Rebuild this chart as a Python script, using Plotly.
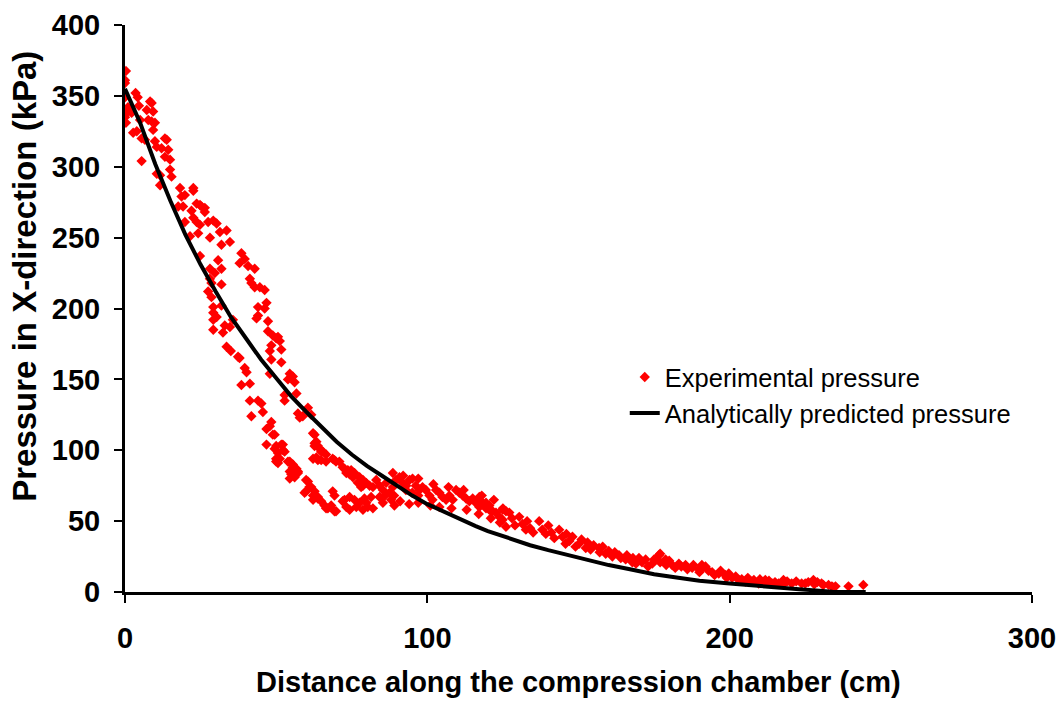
import plotly.graph_objects as go

# Analytically predicted pressure
curve_x = [0, 5, 10, 15, 20, 25, 30, 35, 40, 45, 50, 55, 60, 65, 70, 75, 80, 85, 90, 95,
           100, 105, 110, 116, 120, 127, 134, 140, 150, 160, 167, 175, 183, 190, 200, 211, 223, 234, 245]
curve_p = [355, 331, 302, 276, 252, 231, 212, 194, 179, 164, 151, 138, 127, 116, 106, 97, 89, 82, 75, 68,
           62, 57, 52, 46.5, 43, 38, 33, 29.5, 24, 19, 16, 12.5, 10, 8, 6, 3.8, 2, 0.2, 0]

# Experimental pressure
exp_x = [
    0.3, 0, 0, 3.5, 4.2, 4.6, 0, 1, 1.7, 8.3, 8.8, 7.2, 9.3, 0.5, 2.2, 0, 0.3, 5, 7.7, 8.8,
    9.9, 9.3, 2.7, 3.9, 5.5, 6.6, 13.2, 13.8, 9.9, 10.5, 12.1, 14.3, 13.2, 14.9, 5.5, 14.9, 15.4, 10.5, 11.6, 11.6,
    18.2, 22.6, 18.7, 19.8, 17.6, 19.2, 23.7, 25.3, 26.4,
    22.6, 24.8, 26.4, 22, 22.6, 23.7, 24.8, 19.8, 27.5, 29.2, 30.3, 31.4, 33.6, 21.5, 24.2, 28.1, 31.9, 34.7, 38.5, 39.6,
    37.9, 40.7, 42.9, 24.8, 30.8, 28.1, 31.9, 29.7, 41.3, 41.8, 42.9, 44.6, 46.2, 28.1, 28.6, 31.9, 27.5, 28.6, 44, 46.8,
    46.2, 44, 43.5, 29.2, 29.2, 31.9, 29.2, 30.3, 33, 34.7, 35.7, 29.2, 32.4, 47.3, 47.3, 48.9, 50.6,
    33.6, 35, 37.4,
    50, 51.2, 48.4, 47.9, 51.7, 48.4, 51.7, 47.9, 39.6, 40.2, 37.9, 38.5, 41.3, 54.5, 55.5, 56.1, 53.9, 56.7, 52.8, 52.8,
    41.3, 44, 45.1, 45.6, 41.8, 57.2, 57.8, 58.8, 60.5, 61.6, 48.4, 47.9, 46.8, 48.9, 46.8, 49.5, 51.7, 52.3, 50.6, 50,
    51.2, 53.9, 55.5, 56.7, 54.5, 55, 57.2, 62.7, 63.3, 62.7, 64.4, 64.9, 63.3, 64.9, 66.5, 68.7, 69.8, 72.6, 73.2, 74.8,
    75.9, 60.5, 61.6, 59.4, 62.7, 63.8, 62.2, 64.9, 66, 68.7, 69.3, 67.1, 69.3, 72, 73.2, 74.3, 75.9, 76.5, 78.7, 80.3,
    79.2, 77, 78.7,
    49.5, 50, 52.2, 52.8, 50, 50.6, 54.5, 55.5, 57.2, 56.1, 54.5, 59.9, 61, 59.9, 62.2, 63.8, 66.5, 68.2, 69.8, 72.6,
    74.3, 77.6, 78.1, 79.8, 82, 81.4, 84.2, 85.3, 88, 89.1, 62.2, 62.7, 63.8, 65.5, 66.5, 62.2, 63.8, 69.3, 70.9, 72,
    73.7, 74.3, 75.4, 77.6, 78.7, 79.8, 80.9, 82,
    83.1, 84.2, 85.3, 86.4, 87.5, 88.6, 89.6, 90.8, 91.8, 92.9, 94.1, 95.1, 96.2, 97.4, 98.4, 99.5, 100.7, 101.7, 102.9, 104,
    105, 106.2, 107.3, 108.4, 109.5, 110.6, 111.7, 112.8, 113.9, 115, 116, 117.2, 118.3, 119.4, 120.5, 121.6, 122.7, 123.8, 124.9, 126,
    88.6, 92, 97, 102, 107, 112, 118, 122,
    91, 94, 97, 101, 104, 108, 113, 117, 121, 124,
    86, 89, 93, 95, 97,
    117.2, 120.5, 124.9, 127.1, 126, 130.4, 131.5, 132.6, 137, 138, 139.2, 143.6, 144.7, 145.7, 148, 150.2, 152.4, 156.8, 159, 161.2,
    163.4, 165.6, 167.8, 170, 172.2, 174.4, 176.6, 178.8, 181, 183.2, 185.4, 187.6, 189.8, 192, 194.2, 196.4, 198.5, 200.8, 203, 205.2,
    207.4, 209.6, 211.8, 214, 216.2, 190.8, 199.7, 206.3, 215, 217.8, 220.5, 223.8, 227.7, 230.4, 232.7, 233.8, 239.3, 244.2,
    119.4, 125, 177,
    128, 129, 133, 134, 135, 140, 141, 142, 146, 147, 149, 151, 153, 154, 155, 157, 158, 160, 162, 164,
    166, 168, 169, 171, 173, 175, 177, 179, 180, 182, 184, 186, 188, 190, 191, 193, 195, 197, 199,
    202, 204, 206, 208, 210, 212, 213, 218, 219, 222, 225, 226, 228, 229, 231, 234, 235,
]
exp_p = [
    367.5, 361, 359, 352, 349, 343, 349, 342, 340, 346, 345, 340, 339, 338, 338, 335, 331, 333, 333, 332,
    331, 326, 324, 325, 320, 319, 320, 319, 318, 314, 313, 312, 307, 305, 304, 298, 293, 295, 294, 287,
    285, 285, 279, 280, 272, 272, 274, 272, 271,
    283, 273, 268, 269, 264, 261, 259, 261, 261, 262, 260, 254, 255, 251, 253, 250, 245, 247, 239, 235,
    232, 230, 228, 237, 234, 228, 228, 225, 221, 218, 215, 215, 213, 221, 218, 217, 212, 208, 201, 204,
    200, 195, 193, 201, 197, 202, 192, 194, 188, 187, 192, 185, 183, 191, 184, 181, 180,
    173, 170, 166,
    179, 177, 174, 170, 171, 164, 162, 154, 158, 155, 165, 146, 147, 154, 152, 148, 150, 140, 139, 135,
    135, 135, 133, 127, 124, 126, 123, 124, 130, 125, 120, 117, 115, 111, 104, 101, 104, 100, 98, 92,
    94, 92, 90, 87, 85, 83, 84, 111, 106, 103, 101, 99, 95, 93, 92, 94, 92, 87, 84, 86,
    84, 78, 74, 70, 71, 67, 65, 64, 61, 71, 68, 59, 57, 64, 60, 58, 65, 60, 58, 60,
    66, 77, 75,
    111, 103, 104, 99, 94, 91, 92, 88, 85, 81, 80, 79, 74, 71, 68, 66, 59, 61, 57, 65,
    67, 63, 74, 63, 59, 67, 67, 63, 65, 61, 112, 105, 103, 99, 97, 94, 93, 93, 92, 88,
    86, 83, 81, 81, 79, 77, 75, 74,
    79, 75, 72, 77, 70, 74, 79, 81, 77, 72, 79, 80, 75, 72, 74, 72, 68, 65, 72, 70,
    67, 65, 68, 65, 72, 70, 68, 66, 64, 66, 63, 60, 63, 59, 61, 57, 56, 53, 51, 57,
    84, 82, 80, 76, 74, 72, 68, 65,
    64, 62, 63, 61, 60, 59, 58, 55, 52, 49,
    68, 68, 75, 70, 68,
    67, 58, 58, 56, 46, 53, 48, 44, 50, 44, 41, 44, 39, 34, 39, 34, 31, 31, 27, 25,
    26, 23, 21, 24, 23, 20, 26, 23, 19, 20, 19, 17, 16, 18, 14, 13, 12, 10, 8.5, 7.3,
    7.3, 6, 8.5, 6, 6, 19, 13, 7, 7, 8.5, 6, 6, 8.5, 6, 5, 4, 4, 5,
    63, 59, 27,
    52, 47, 50, 45, 42, 47, 42, 38, 41, 36, 32, 37, 35, 30, 33, 28, 32, 29, 28, 24,
    26, 24, 20, 21, 18, 23, 21, 19, 22, 17, 18, 16, 19, 14, 17, 15, 12, 15, 10,
    11, 9, 10, 8.5, 9, 6.5, 8, 6, 7.5, 7.5, 6, 7, 5.5, 7, 5, 3.5, 4,
]

x_title = "Distance along the compression chamber (cm)"
y_title = "Pressure in X-direction (kPa)"
font_family = "Liberation Sans, Arial, sans-serif"

fig = go.Figure()
fig.add_trace(go.Scatter(
    x=exp_x, y=exp_p, mode="markers", name="Experimental pressure",
    marker=dict(symbol="diamond", size=8, color="#ff0000", line=dict(width=0)),
))
fig.add_trace(go.Scatter(
    x=curve_x, y=curve_p, mode="lines", name="Analytically predicted pressure",
    line=dict(color="black", width=4),
))

fig.update_layout(
    width=1059, height=702,
    margin=dict(l=125, r=27, t=25, b=110),
    paper_bgcolor="white", plot_bgcolor="white",
    font=dict(family=font_family, color="black"),
    showlegend=True,
    legend=dict(
        x=0.551, y=0.42, xanchor="left", yanchor="top",
        bgcolor="rgba(0,0,0,0)", font=dict(size=25.5, family=font_family),
        tracegroupgap=4, itemwidth=30,
    ),
    xaxis=dict(
        range=[0, 300], tickvals=[0, 100, 200, 300], automargin=False,
        showline=True, linecolor="black", linewidth=3,
        ticks="outside", ticklen=8, tickwidth=2, tickcolor="black",
        showgrid=False, zeroline=False,
        tickfont=dict(size=29, weight="bold", family=font_family),
        ticklabelstandoff=10,
    ),
    yaxis=dict(
        range=[0, 400], tickvals=[0, 50, 100, 150, 200, 250, 300, 350, 400], automargin=False,
        showline=True, linecolor="black", linewidth=3,
        ticks="outside", ticklen=8, tickwidth=2, tickcolor="black",
        showgrid=False, zeroline=False,
        tickfont=dict(size=29, weight="bold", family=font_family),
        ticklabelstandoff=8,
    ),
    annotations=[
        dict(text=x_title, xref="paper", yref="paper", x=0.5, y=-0.159,
             xanchor="center", yanchor="middle", showarrow=False,
             font=dict(size=29, weight="bold", family=font_family)),
        dict(text=y_title, xref="paper", yref="paper", x=-0.1102, y=0.556,
             xanchor="center", yanchor="middle", showarrow=False, textangle=-90,
             font=dict(size=33, weight="bold", family=font_family)),
    ],
)

fig.write_html("out.html")
